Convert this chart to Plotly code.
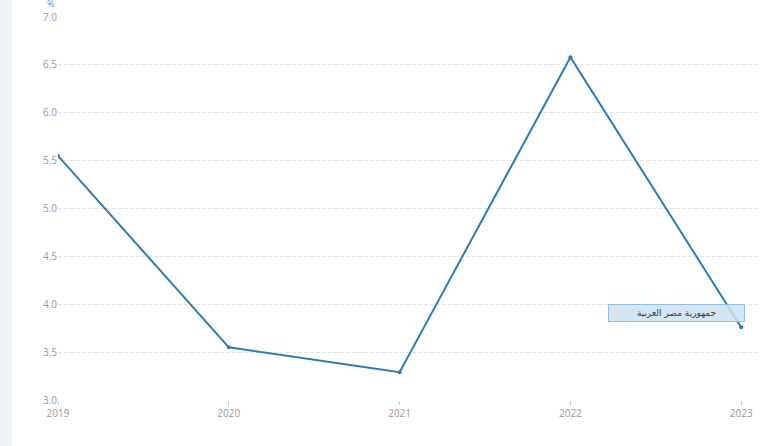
import plotly.graph_objects as go

years = [2019, 2020, 2021, 2022, 2023]
values = [5.55, 3.55, 3.29, 6.58, 3.76]
y_ticks = [3.0, 3.5, 4.0, 4.5, 5.0, 5.5, 6.0, 6.5, 7.0]
series_name = "جمهورية مصر العربية"
unit_label = "%"

line_color = "#2b7bb9"
tick_color = "#9a9a9a"

fig = go.Figure()
fig.add_trace(go.Scatter(
    x=years, y=values, mode="lines+markers",
    line=dict(color=line_color, width=2),
    marker=dict(color=line_color, size=4),
    name=series_name, showlegend=False, hoverinfo="x+y",
))

L, R, T, B = 58, 8, 17, 46
W, H = 768, 446
pw = W - L - R

fig.update_layout(
    width=W, height=H,
    margin=dict(l=L, r=R, t=T, b=B),
    paper_bgcolor="white", plot_bgcolor="white",
    font=dict(family="Open Sans, sans-serif", size=10, color=tick_color),
    xaxis=dict(
        range=[2019, 2023.11], tickvals=years, ticktext=[str(y) for y in years],
        showgrid=False, zeroline=False, showline=False,
        ticks="outside", ticklen=4, tickcolor="#cccccc", tickwidth=1,
        tickfont=dict(size=10, color=tick_color),
    ),
    yaxis=dict(
        range=[3, 7], tickvals=y_ticks, ticktext=[f"{v:.1f}" for v in y_ticks],
        showgrid=True, gridcolor="#e3e3e3", griddash="4px,2px", gridwidth=1,
        zeroline=False, showline=False, ticks="",
        tickfont=dict(size=10, color=tick_color),
    ),
    shapes=[dict(
        type="rect", xref="paper", yref="paper",
        x0=-L / pw, x1=(12 - L) / pw, y0=-2, y1=2,
        fillcolor="#eef1f5", line=dict(width=0), layer="below",
    )],
    annotations=[
        dict(
            x=2022.62, y=3.91, xref="x", yref="y", text=series_name,
            showarrow=False, bgcolor="rgba(204,224,241,0.85)",
            bordercolor="#94bde0", borderwidth=1, borderpad=1,
            width=133, height=14,
            font=dict(family="DejaVu Sans, sans-serif", size=9, color="#3a3a3a"),
        ),
        dict(
            x=(50 - L) / pw, y=1.0, xref="paper", yref="paper",
            yshift=T - 3, text=unit_label, showarrow=False,
            xanchor="center", yanchor="middle", borderpad=0,
            font=dict(size=9, color="#5a8fc4"),
        ),
    ],
)

fig.write_html(
    "out.html",
    config={"displayModeBar": False},
    post_script="document.body.style.margin='0';document.body.style.overflow='hidden';",
)
